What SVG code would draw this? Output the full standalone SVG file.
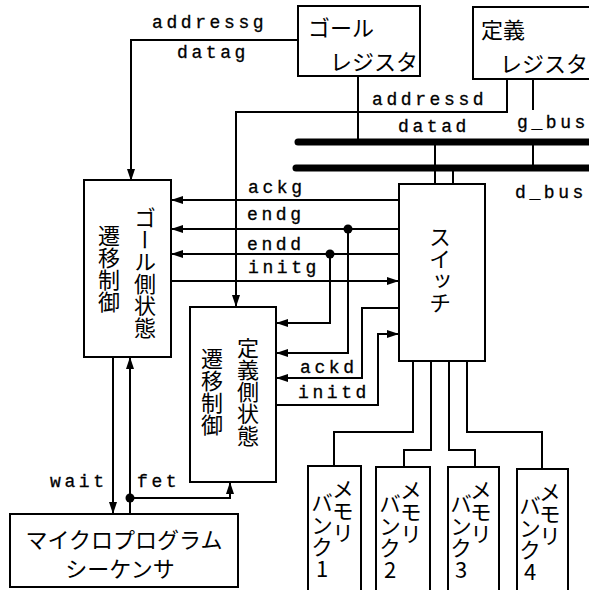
<svg xmlns="http://www.w3.org/2000/svg" width="589" height="590" viewBox="0 0 589 590">
<style>
.box{fill:#fff;stroke:#000;stroke-width:2}
.ln{fill:none;stroke:#000;stroke-width:2}
.bus{fill:none;stroke:#000;stroke-width:7;stroke-linecap:round}
.lbl{font-family:"Liberation Mono","DejaVu Sans Mono",monospace;font-size:18px;letter-spacing:3.6px;fill:#000;stroke:#000;stroke-width:0.3}
.jp{font-family:"Noto Sans CJK JP","Noto Sans CJK SC",sans-serif;font-size:22px;fill:#000}
.vt{writing-mode:vertical-rl;text-orientation:upright}
</style>
<defs>
<marker id="ar" markerUnits="userSpaceOnUse" markerWidth="13" markerHeight="9" refX="12" refY="4" orient="auto">
<path d="M0,0 L12,4 L0,8 z" fill="#000"/>
</marker>
</defs>
<rect width="589" height="590" fill="#fff"/>
<g id="connectors">
<path class="bus" d="M298,142 H592"/>
<path class="bus" d="M296,168 H592"/>
<path class="ln" d="M298,40 H131 V181" marker-end="url(#ar)"/>
<path class="ln" d="M358,77 V142"/>
<path class="ln" d="M507,79 V112 H236 V307" marker-end="url(#ar)"/>
<path class="ln" d="M533,79 V110"/>
<path class="ln" d="M533,142 V168"/>
<path class="ln" d="M435,142 V184"/>
<path class="ln" d="M453,168 V184"/>
<path class="ln" d="M399,200 H171" marker-end="url(#ar)"/>
<path class="ln" d="M399,229 H171" marker-end="url(#ar)"/>
<path class="ln" d="M399,254 H171" marker-end="url(#ar)"/>
<path class="ln" d="M171,281 H399" marker-end="url(#ar)"/>
<path class="ln" d="M348,229 V353 H276" marker-end="url(#ar)"/>
<path class="ln" d="M330,254 V323 H276" marker-end="url(#ar)"/>
<circle cx="348" cy="229" r="4.5" fill="#000"/>
<circle cx="330" cy="254" r="4.5" fill="#000"/>
<path class="ln" d="M399,308 H362 V378 H276" marker-end="url(#ar)"/>
<path class="ln" d="M276,405 H378 V334 H399" marker-end="url(#ar)"/>
<path class="ln" d="M113,357 V514" marker-end="url(#ar)"/>
<path class="ln" d="M130,514 V357" marker-end="url(#ar)"/>
<path class="ln" d="M130,498 H230 V482" marker-end="url(#ar)"/>
<circle cx="130" cy="498" r="4.5" fill="#000"/>
<path class="ln" d="M413,361 V432 H334 V466"/>
<path class="ln" d="M431,361 V450 H404 V467"/>
<path class="ln" d="M449,361 V450 H475 V467"/>
<path class="ln" d="M467,361 V432 H542 V469"/>
</g>
<g id="labels">
<text class="lbl" x="152" y="28">addressg</text>
<text class="lbl" x="177" y="58">datag</text>
<text class="lbl" x="372" y="105">addressd</text>
<text class="lbl" x="398" y="132">datad</text>
<text class="lbl" x="517" y="128">g_bus</text>
<text class="lbl" x="515" y="198">d_bus</text>
<text class="lbl" x="248" y="193">ackg</text>
<text class="lbl" x="247" y="220">endg</text>
<text class="lbl" x="247" y="250">endd</text>
<text class="lbl" x="248" y="273">initg</text>
<text class="lbl" x="300" y="373">ackd</text>
<text class="lbl" x="298" y="398">initd</text>
<text class="lbl" x="50" y="487">wait</text>
<text class="lbl" x="137" y="487">fet</text>
</g>
<g id="goal-register">
<rect class="box" x="298" y="6" width="122" height="70"/>
<text class="jp" x="308" y="36">ゴール</text>
<text class="jp" x="330" y="70">レジスタ</text>
</g>
<g id="def-register">
<rect class="box" x="473" y="7" width="130" height="72"/>
<text class="jp" x="481" y="38">定義</text>
<text class="jp" x="500" y="72" font-size="21">レジスタ</text>
</g>
<g id="goal-state">
<rect class="box" x="84" y="180" width="87" height="177"/>
<text class="jp vt" x="145" y="207">ゴール側状態</text>
<text class="jp vt" x="109" y="225">遷移制御</text>
</g>
<g id="def-state">
<rect class="box" x="190" y="307" width="86" height="175"/>
<text class="jp vt" x="248" y="337">定義側状態</text>
<text class="jp vt" x="212" y="348">遷移制御</text>
</g>
<g id="switch">
<rect class="box" x="399" y="184" width="86" height="177"/>
<text class="jp vt" x="440" y="226">スイッチ</text>
</g>
<g id="sequencer">
<rect class="box" x="10" y="514" width="228" height="73"/>
<text class="jp" x="124" y="548" text-anchor="middle">マイクロプログラム</text>
<text class="jp" x="120" y="577" text-anchor="middle">シーケンサ</text>
</g>
<g id="bank1">
<rect class="box" x="308" y="466" width="53" height="140"/>
<text class="jp vt" x="343" y="478">メモリ</text>
<text class="jp vt" x="322" y="492">バンク1</text>
</g>
<g id="bank2">
<rect class="box" x="376" y="467" width="54" height="140"/>
<text class="jp vt" x="411" y="479">メモリ</text>
<text class="jp vt" x="390" y="493">バンク2</text>
</g>
<g id="bank3">
<rect class="box" x="448" y="467" width="51" height="140"/>
<text class="jp vt" x="481" y="479">メモリ</text>
<text class="jp vt" x="461" y="493">バンク3</text>
</g>
<g id="bank4">
<rect class="box" x="517" y="469" width="51" height="140"/>
<text class="jp vt" x="550" y="481">メモリ</text>
<text class="jp vt" x="530" y="495">バンク4</text>
</g>
</svg>
